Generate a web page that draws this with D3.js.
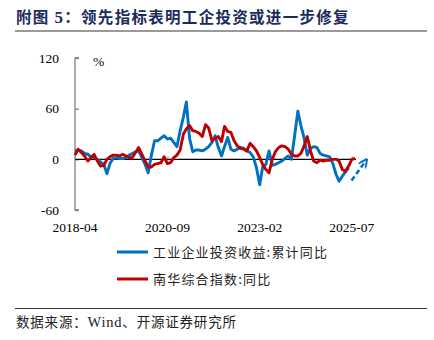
<!DOCTYPE html>
<html><head><meta charset="utf-8">
<script src="https://cdn.jsdelivr.net/npm/d3@7"></script>
<style>
body{margin:0;background:#fff;}
svg{display:block;}
</style></head>
<body><svg id="c" width="434" height="340"></svg>
<script>
const startMonth = "2018-04";
const blueName = "工业企业投资收益:累计同比";
const redName = "南华综合指数:同比";
const blueValues = [10,11,10,7,6,3,2,0,-3,-6,-17,-5,1,2,1,1,2,5,7,9,10,2,-6,-16,5,22,22,25,28,24,25,20,15,34,50,68,25,9,11,11,10,12,15,20,28,14,4,15,26,12,10,12,14,13,10,8,3,-10,-30,-9,-6,10,-7,-6,-4,-2,1,4,0,28,57,40,25,5,13,15,14,7,5,4,3,-5,-18,-26,-20,-15,-10];
const redValues = [5,12,8,4,-2,2,6,-2,-8,-7,0,3,5,5,4,6,4,2,2,8,14,6,-2,-9,-9,-6,-5,-4,3,-5,-4,2,5,11,30,36,40,34,33,31,27,41,37,22,25,27,21,39,33,32,22,16,13,12,10,19,15,10,2,-6,-12,-16,0,9,14,16,15,12,6,4,4,7,16,27,10,-2,-4,-1,-2,-1,-1,0,0,-2,-12,-14,-8,0,1];
const xTickLabels = ["2018-04","2020-09","2023-02","2025-07"];
const yTicks = [-60,0,60,120];
const arrowPoints = [{m:86.9,v:-25},{m:91.3,v:-2}];
const titleParts = [["附图 ","cjk"],["5","serif"],["：领先指标表明工企投资或进一步修复","cjk"]];
const sourceParts = [["数据来源：","cjk"],["Wind","serif"],["、开源证券研究所","cjk"]];

const parse = d3.timeParse("%Y-%m");
const t0 = parse(startMonth);
const monthDate = m => { const d = new Date(t0); d.setMonth(d.getMonth()+Math.floor(m)); const frac=m-Math.floor(m); return new Date(d.getTime()+frac*30.44*864e5); };
const blue = blueValues.map((v,i)=>({d:monthDate(i),v}));
const red = redValues.map((v,i)=>({d:monthDate(i),v}));

const svg = d3.select("#c");
const x = d3.scaleTime().domain([t0, monthDate(88.3)]).range([75,356]);
const y = d3.scaleLinear().domain([-60,120]).range([210,58]);

const serif = "'Liberation Serif','DejaVu Serif',serif";
const cjk = "'Noto Sans CJK SC',sans-serif";
const fam = k => k==="serif" ? serif : cjk;

// title
const tt = svg.append("text").attr("x",16).attr("y",23)
  .attr("font-weight","bold").attr("font-size",15.5)
  .attr("letter-spacing",1.3).attr("fill","#1c2a5c");
tt.selectAll("tspan").data(titleParts).join("tspan").attr("font-family",d=>fam(d[1]))
  .attr("font-size",d=>d[1]==="serif"?17:15.5).text(d=>d[0]);
svg.append("line").attr("x1",15).attr("x2",427).attr("y1",31).attr("y2",31)
  .attr("stroke","#9a9a9a").attr("stroke-width",2);

// y axis
const yAxis = d3.axisRight(y).tickValues(yTicks).tickSize(4).tickFormat("");
const gy = svg.append("g").attr("transform","translate(75,0)").call(yAxis);
gy.selectAll("path,line").attr("stroke","#808080").attr("stroke-width",1.3);
gy.select(".domain").attr("d",`M4,${y(120)}H0V${y(-60)}H4`);
svg.append("g").selectAll("text").data(yTicks).join("text")
  .attr("x",59).attr("y",d=>y(d)+4.5).attr("text-anchor","end")
  .attr("font-family",serif).attr("font-size",13.5).attr("fill","#000").text(d=>d);
svg.append("text").attr("x",93).attr("y",66).text("%")
  .attr("font-family",serif).attr("font-size",13.5).attr("fill","#000");

// x axis at zero
const xTickDates = xTickLabels.map(parse);
const xAxis = d3.axisTop(x).tickValues(xTickDates).tickSize(3).tickFormat("");
const gx = svg.append("g").attr("transform",`translate(0,${y(0)})`).call(xAxis);
gx.select(".domain").attr("stroke","#000").attr("stroke-width",1.2).attr("d",`M75,0H356`);
gx.selectAll(".tick line").attr("stroke","#888");
svg.append("g").selectAll("text").data(xTickDates).join("text")
  .attr("x",d=>x(d)).attr("y",232).attr("text-anchor","middle")
  .attr("font-family",serif).attr("font-size",13.5).attr("fill","#000")
  .text((d,i)=>xTickLabels[i]);

// lines
const line = d3.line().x(d=>x(d.d)).y(d=>y(d.v));
svg.append("path").datum(blue).attr("d",line).attr("fill","none")
  .attr("stroke","#0070C0").attr("stroke-width",2.9).attr("stroke-linejoin","round");
svg.append("path").datum(red).attr("d",line).attr("fill","none")
  .attr("stroke","#C00000").attr("stroke-width",2.9).attr("stroke-linejoin","round");

// arrow
const defs = svg.append("defs");
defs.append("marker").attr("id","ah").attr("viewBox","0 0 10 10").attr("refX",7).attr("refY",5)
  .attr("markerWidth",3.4).attr("markerHeight",3.4).attr("orient","auto")
  .append("path").attr("d","M0,0L10,5L0,10").attr("fill","none").attr("stroke","#0070C0").attr("stroke-width",2.2);
const ap = arrowPoints.map(p=>({d:monthDate(p.m),v:p.v}));
svg.append("path").datum(ap).attr("d",line).attr("fill","none")
  .attr("stroke","#0070C0").attr("stroke-width",2.6).attr("stroke-dasharray","5,3")
  .attr("marker-end","url(#ah)");

// legend
const legend = [{name:blueName,color:"#0070C0",y:252},{name:redName,color:"#C00000",y:279}];
const lg = svg.append("g").selectAll("g").data(legend).join("g");
lg.append("line").attr("x1",117).attr("x2",148).attr("y1",d=>d.y).attr("y2",d=>d.y)
  .attr("stroke",d=>d.color).attr("stroke-width",3);
lg.append("text").attr("x",153).attr("y",d=>d.y+5).text(d=>d.name)
  .attr("font-family",cjk).attr("font-size",13).attr("letter-spacing",1.2).attr("fill","#222");

// source
svg.append("line").attr("x1",15).attr("x2",427).attr("y1",308.5).attr("y2",308.5)
  .attr("stroke","#333").attr("stroke-width",1);
const st = svg.append("text").attr("x",16).attr("y",327)
  .attr("font-size",13.5).attr("letter-spacing",0.8).attr("fill","#222");
st.selectAll("tspan").data(sourceParts).join("tspan").attr("font-family",d=>fam(d[1]))
  .attr("font-size",d=>d[1]==="serif"?14.5:13.5).text(d=>d[0]);
</script></body></html>
